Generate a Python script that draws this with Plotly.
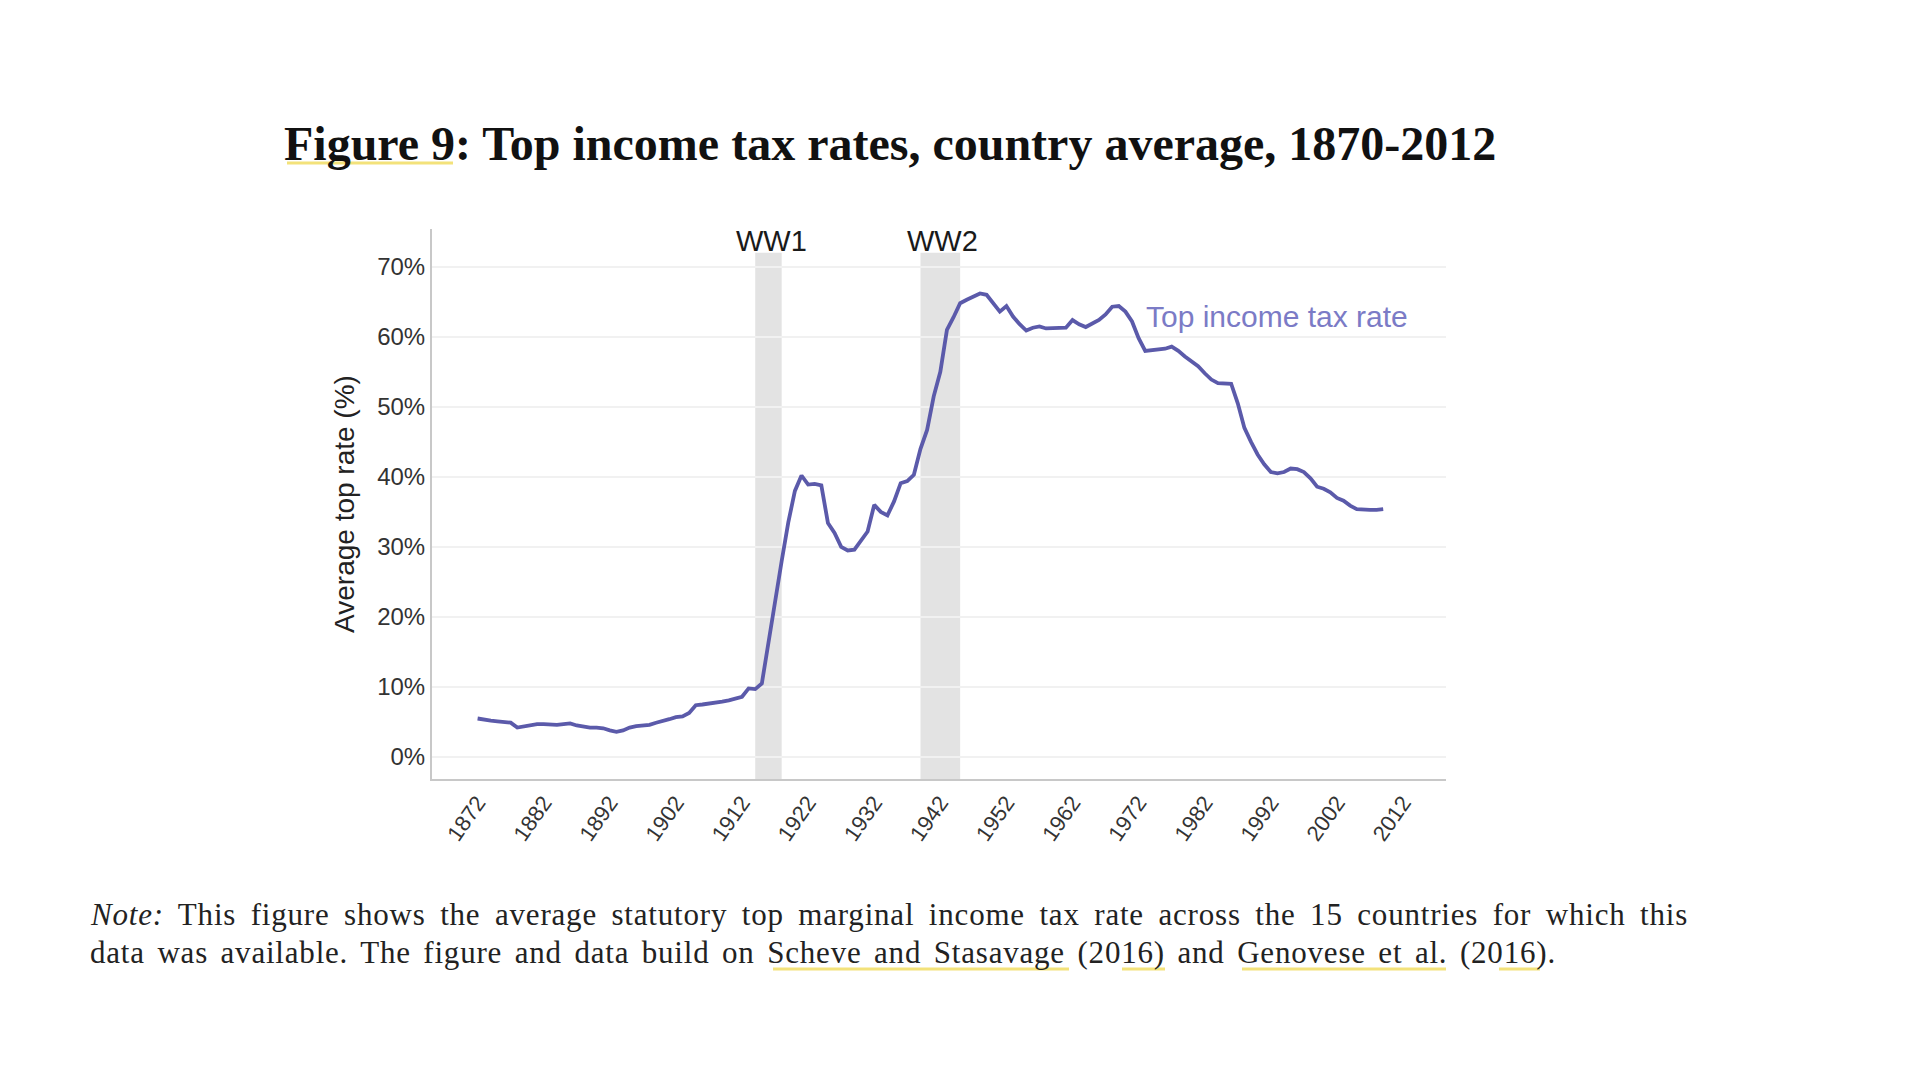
import plotly.graph_objects as go

years = list(range(1872, 2010))
top_rate = [
    5.5, 5.3, 5.2, 5.1, 5.0, 4.9, 4.2, 4.4, 4.6, 4.7,   # 1872-1881
    4.7, 4.6, 4.6, 4.7, 4.8, 4.5, 4.3, 4.2, 4.2, 4.1,   # 1882-1891
    3.8, 3.6, 3.8, 4.2, 4.4, 4.5, 4.6, 4.9, 5.1, 5.4,   # 1892-1901
    5.7, 5.8, 6.3, 7.4, 7.5, 7.6, 7.7, 7.9, 8.1, 8.3,   # 1902-1911
    8.6, 9.8, 9.7, 10.5, 16.5, 22.5, 28.0, 33.5, 38.0, 40.2,  # 1912-1921
    38.9, 39.0, 38.8, 33.4, 32.0, 30.0, 29.5, 29.6, 30.8, 32.2,  # 1922-1931
    36.0, 35.0, 34.5, 36.5, 39.1, 39.4, 40.3, 44.0, 46.7, 51.5,  # 1932-1941
    55.0, 61.0, 62.8, 64.8, 65.3, 65.8, 66.2, 66.0, 64.8, 63.6,  # 1942-1951
    64.4, 62.9, 61.8, 60.9, 61.3, 61.5, 61.2, 61.2, 61.2, 61.3,  # 1952-1961
    62.4, 61.8, 61.4, 61.9, 62.4, 63.2, 64.3, 64.4, 63.6, 62.2,  # 1962-1971
    59.8, 58.0, 58.1, 58.1, 58.3, 58.6, 58.0, 57.2, 56.5, 55.8,  # 1972-1981
    54.8, 53.9, 53.4, 53.4, 53.3, 50.5, 47.0, 45.0, 43.2, 41.8,  # 1982-1991
    40.7, 40.5, 40.7, 41.2, 41.1, 40.7, 39.8, 38.6, 38.3, 37.8,  # 1992-2001
    37.0, 36.6, 35.9, 35.4, 35.3, 35.3, 35.3, 35.4,              # 2002-2009
]

tick_years = list(range(1872, 2013, 10))
y_ticks = [0, 10, 20, 30, 40, 50, 60, 70]
y_tick_labels = [f"{v}%" for v in y_ticks]

wars = [("WW1", 1914, 1918), ("WW2", 1939, 1945)]

title_text = "<b>Figure 9: Top income tax rates, country average, 1870-2012</b>"
note_line1 = ('<span style="letter-spacing:0.8px;word-spacing:6px"><i>Note:</i> This figure shows the '
              'average statutory top marginal income tax rate across the 15 countries for which this</span>')
note_line2 = ('<span style="letter-spacing:0.8px;word-spacing:4px">data was available. The figure and '
              'data build on Scheve and Stasavage (2016) and Genovese et al. (2016).</span>')

LINE_COLOR = "#5b5aaa"
LABEL_COLOR = "#7b7bc6"
SANS = "Liberation Sans, Arial, sans-serif"
SERIF = "Liberation Serif, Times New Roman, serif"

# plot area in pixels (for paper coordinate conversions)
L, R, T, B = 432, 1446, 229, 779
W, H = 1920, 1080
def px(xp):
    return (xp - L) / (R - L)
def py(yp):
    return (B - yp) / (B - T)

Y_MIN, Y_MAX = -3.14, 75.4

fig = go.Figure()

shapes = []
annotations = []
for name, a, b in wars:
    shapes.append(dict(type="rect", xref="x", yref="y", x0=a, x1=b, y0=Y_MIN, y1=72.0,
                       fillcolor="#e3e3e3", line=dict(width=0), layer="below"))
    annotations.append(dict(x=(a + b) / 2 + 0.4, y=73.7, xref="x", yref="y", text=name,
                            showarrow=False, font=dict(family=SANS, size=29, color="#1a1a1a"),
                            xanchor="center", yanchor="middle"))

fig.add_trace(go.Scatter(x=years, y=top_rate, mode="lines",
                         line=dict(color=LINE_COLOR, width=3.8), showlegend=False,
                         name="Top income tax rate"))

annotations.append(dict(x=1972.8, y=62.9, xref="x", yref="y", text="Top income tax rate",
                        showarrow=False, font=dict(family=SANS, size=30, color=LABEL_COLOR),
                        xanchor="left", yanchor="middle"))

annotations.append(dict(x=px(890), y=py(143), xref="paper", yref="paper", text=title_text,
                        showarrow=False, font=dict(family=SERIF, size=48, color="#111111"),
                        xanchor="center", yanchor="middle"))
annotations.append(dict(x=px(88), y=py(914), xref="paper", yref="paper", text=note_line1,
                        showarrow=False, font=dict(family=SERIF, size=31, color="#222222"),
                        xanchor="left", yanchor="middle"))
annotations.append(dict(x=px(88), y=py(952), xref="paper", yref="paper", text=note_line2,
                        showarrow=False, font=dict(family=SERIF, size=31, color="#222222"),
                        xanchor="left", yanchor="middle"))

# yellow link underlines
for x0, x1, yy in [(287, 453, 163), (773, 1069, 969), (1122, 1165, 969),
                   (1242, 1446, 969), (1499, 1540, 969)]:
    shapes.append(dict(type="line", xref="paper", yref="paper", x0=px(x0), x1=px(x1),
                       y0=py(yy), y1=py(yy), line=dict(color="#f3e27a", width=3)))

fig.update_layout(
    width=W, height=H,
    margin=dict(l=L, r=W - R, t=T, b=H - B),
    paper_bgcolor="white", plot_bgcolor="white",
    shapes=shapes, annotations=annotations,
    xaxis=dict(range=[1865.1, 2018.5], tickmode="array", tickvals=tick_years,
               ticktext=[str(t) for t in tick_years], tickangle=-55,
               tickfont=dict(family=SANS, size=22, color="#333333"),
               showgrid=False, zeroline=False, showline=True, linecolor="#c8c8c8",
               linewidth=2, ticks=""),
    yaxis=dict(range=[Y_MIN, Y_MAX], tickmode="array", tickvals=y_ticks,
               ticktext=y_tick_labels,
               tickfont=dict(family=SANS, size=24, color="#333333"),
               showgrid=True, gridcolor="#f1f1f1", gridwidth=1.5, zeroline=False,
               showline=True, linecolor="#c8c8c8", linewidth=2, ticks="",
               title=dict(text="Average top rate (%)", standoff=14,
                          font=dict(family=SANS, size=28, color="#222222"))),
)

fig.write_html("out.html")
